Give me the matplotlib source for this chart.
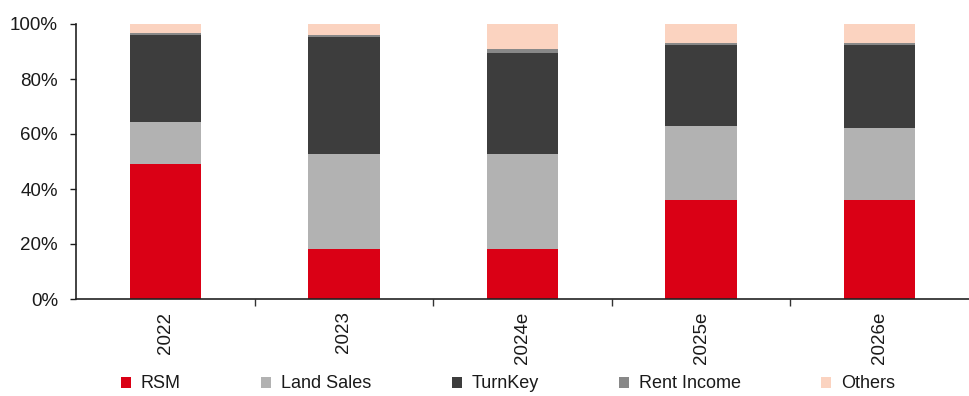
import matplotlib
matplotlib.use("Agg")
import matplotlib.pyplot as plt
import numpy as np
from matplotlib.ticker import PercentFormatter, FixedLocator, NullFormatter

plt.rcParams['font.family'] = ['Liberation Sans', 'DejaVu Sans']

years = ["2022", "2023", "2024e", "2025e", "2026e"]
rsm = [49.2, 18.2, 18.2, 36.1, 36.1]
land_sales = [15.2, 34.6, 34.6, 26.8, 26.1]
turnkey = [31.7, 42.6, 36.8, 29.6, 30.3]
rent_income = [0.6, 0.6, 1.3, 0.6, 0.6]
others = [3.3, 4.0, 9.1, 6.9, 6.9]

series = [
    ("RSM", rsm, "#DA0015"),
    ("Land Sales", land_sales, "#B2B2B2"),
    ("TurnKey", turnkey, "#3D3D3D"),
    ("Rent Income", rent_income, "#888888"),
    ("Others", others, "#FBD3C0"),
]

fig = plt.figure(figsize=(9.7, 3.96), dpi=100)
ax = fig.add_axes([76 / 970, 1 - 299 / 396, (969 - 76) / 970, 275 / 396])

x = np.arange(len(years))
bottom = np.zeros(len(years))
for name, vals, col in series:
    v = np.array(vals) / 100.0
    ax.bar(x, v, bottom=bottom, width=0.40, color=col, label=name, linewidth=0)
    bottom += v

ax.set_xlim(-0.5, len(years) - 0.5)
ax.set_ylim(0, 1.0)
ax.yaxis.set_major_formatter(PercentFormatter(1.0, decimals=0))
ax.set_yticks(np.arange(0, 1.01, 0.2))

ax.set_xticks(x)
ax.set_xticklabels(years, rotation=90)
ax.tick_params(axis='x', which='major', length=0, pad=9)
ax.xaxis.set_minor_locator(FixedLocator(np.arange(0.5, len(years) - 0.5, 1.0)))
ax.xaxis.set_minor_formatter(NullFormatter())
ax.tick_params(axis='x', which='minor', length=5, direction='out', width=1, color='#333333')
ax.tick_params(axis='y', length=4, direction='out', width=1, color='#333333', pad=9)
ax.tick_params(labelsize=13.5, colors='#1a1a1a')

for s in ['top', 'right']:
    ax.spines[s].set_visible(False)
for s in ['left', 'bottom']:
    ax.spines[s].set_color('#222222')
    ax.spines[s].set_linewidth(1.2)

handles, labels = ax.get_legend_handles_labels()
fig.legend(handles, labels, loc='center left', bbox_to_anchor=(121 / 970, 1 - 384 / 396),
           ncol=5, frameon=False, fontsize=13, handlelength=0.55, handleheight=0.55,
           handletextpad=0.55, columnspacing=4.45, borderpad=0, borderaxespad=0,
           labelcolor='#1a1a1a')

fig.savefig("out.png", dpi=100)
